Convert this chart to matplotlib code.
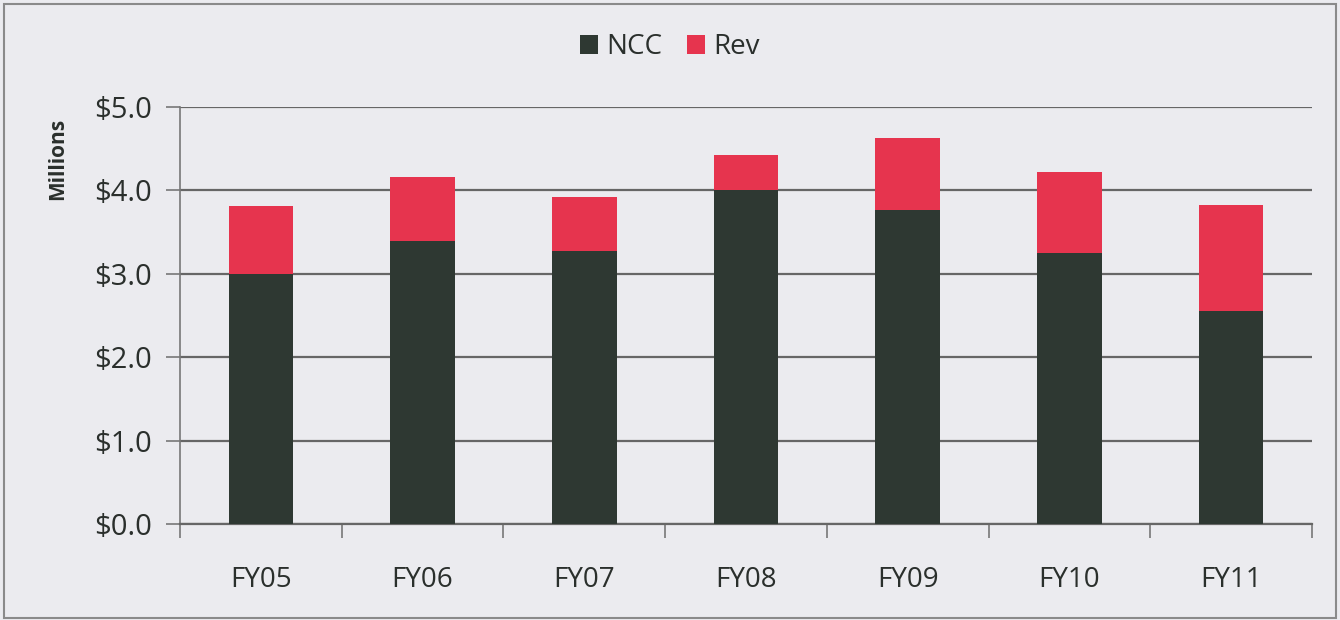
import matplotlib
matplotlib.use("Agg")
import matplotlib.pyplot as plt
from matplotlib.patches import Rectangle
from matplotlib.ticker import FuncFormatter, MultipleLocator

years = ["FY05", "FY06", "FY07", "FY08", "FY09", "FY10", "FY11"]
ncc = [3.00, 3.39, 3.27, 4.00, 3.76, 3.25, 2.55]
rev = [0.81, 0.77, 0.65, 0.42, 0.87, 0.97, 1.27]

ncc_color = "#2e3832"
rev_color = "#e6344e"
bg = "#ebebef"
text_color = "#2a2f2c"

plt.rcParams["font.family"] = ["Open Sans", "DejaVu Sans"]

fig = plt.figure(figsize=(13.4, 6.2), dpi=100, facecolor=bg)
ax = fig.add_axes([180 / 1340, 1 - 524 / 620, (1312 - 180) / 1340, (524 - 107) / 620])
ax.set_facecolor(bg)

x = list(range(len(years)))
ax.bar(x, ncc, width=0.4, color=ncc_color, label="NCC", zorder=3)
ax.bar(x, rev, width=0.4, bottom=ncc, color=rev_color, label="Rev", zorder=3)

ax.set_xlim(-0.5, len(years) - 0.5)
ax.set_ylim(0, 5)
ax.yaxis.set_major_locator(MultipleLocator(1.0))
ax.yaxis.set_major_formatter(FuncFormatter(lambda v, p: f"${v:.1f}"))
ax.grid(axis="y", color="#666666", linewidth=1.6, zorder=0)

ax.set_xticks(x)
ax.set_xticklabels(years)
ax.set_xticks([i - 0.5 for i in range(len(years) + 1)], minor=True)
ax.tick_params(axis="x", which="major", length=0, pad=30, labelsize=20, colors=text_color)
ax.tick_params(axis="x", which="minor", length=10, width=1.2, direction="out", color="#777777")
ax.tick_params(axis="y", length=10, width=1.2, direction="out", pad=10, labelsize=21,
               color="#777777", labelcolor=text_color)

for s in ("top", "right"):
    ax.spines[s].set_visible(False)
ax.spines["left"].set_color("#777777")
ax.spines["left"].set_linewidth(1.2)
ax.spines["bottom"].set_color("#666666")
ax.spines["bottom"].set_linewidth(1.6)

fig.text(58 / 1340, 1 - 159 / 620, "Millions", rotation=90, ha="center", va="center",
         fontsize=15, fontweight="bold", color=text_color)

leg = fig.legend(loc="center", bbox_to_anchor=(0.5, 1 - 47 / 620), ncol=2, frameon=False,
                 fontsize=20, handlelength=0.65, handleheight=0.65, handletextpad=0.3,
                 columnspacing=0.9)
for t in leg.get_texts():
    t.set_color(text_color)

fig.patches.append(Rectangle((0.003, 0.004), 0.994, 0.99, transform=fig.transFigure,
                             fill=False, edgecolor="#8a8a8a", linewidth=1.5))

fig.savefig("out.png", dpi=100, facecolor=bg)
